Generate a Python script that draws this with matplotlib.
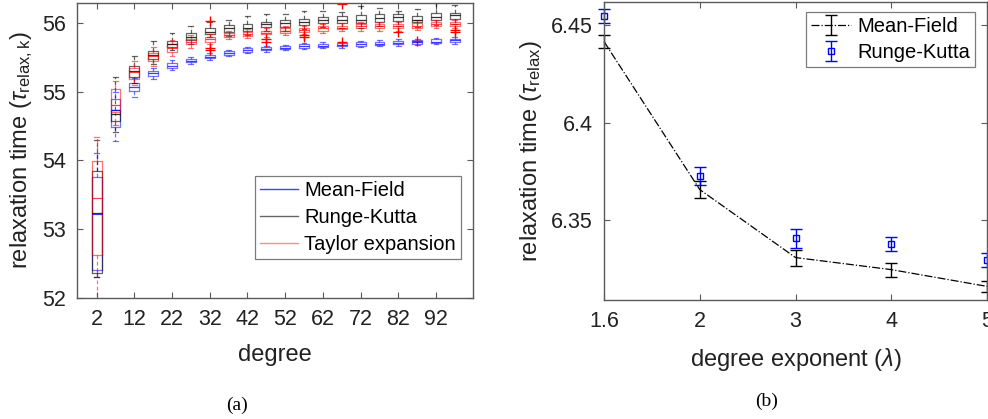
import matplotlib
matplotlib.use("Agg")
import matplotlib.pyplot as plt
from matplotlib.lines import Line2D

plt.rcParams['font.family'] = ['Liberation Sans', 'DejaVu Sans']
plt.rcParams['mathtext.fontset'] = 'custom'
plt.rcParams['mathtext.rm'] = 'Liberation Sans'
plt.rcParams['mathtext.it'] = 'Liberation Sans:italic'

# ---------------- panel (a) data ----------------
degrees = [2, 7, 12, 17, 22, 27, 32, 37, 42, 47, 52, 57, 62, 67, 72, 77, 82, 87, 92, 97]
degree_ticks = [2, 12, 22, 32, 42, 52, 62, 72, 82, 92]

# Mean-Field (blue)
mf_med = [53.22, 54.74, 55.07, 55.27, 55.38, 55.45, 55.51, 55.56, 55.60, 55.62,
          55.64, 55.66, 55.67, 55.68, 55.70, 55.70, 55.71, 55.72, 55.73, 55.75]
mf_q1 = [52.40, 54.49, 55.01, 55.23, 55.35, 55.43, 55.49, 55.54, 55.58, 55.60,
         55.62, 55.64, 55.65, 55.66, 55.67, 55.68, 55.69, 55.70, 55.71, 55.72]
mf_q3 = [53.76, 54.89, 55.13, 55.30, 55.42, 55.48, 55.53, 55.59, 55.63, 55.65,
         55.66, 55.69, 55.70, 55.71, 55.72, 55.73, 55.74, 55.75, 55.76, 55.77]
mf_lo = [52.30, 54.28, 54.93, 55.18, 55.31, 55.40, 55.46, 55.52, 55.56, 55.58,
         55.60, 55.62, 55.63, 55.64, 55.65, 55.66, 55.67, 55.68, 55.69, 55.70]
mf_hi = [54.11, 55.00, 55.20, 55.35, 55.46, 55.50, 55.56, 55.61, 55.65, 55.67,
         55.68, 55.71, 55.72, 55.73, 55.74, 55.75, 55.76, 55.77, 55.78, 55.79]

# Runge-Kutta (black)
rk_med = [53.23, 54.67, 55.30, 55.54, 55.69, 55.80, 55.87, 55.92, 55.93, 55.98,
          56.00, 56.02, 56.04, 56.05, 56.05, 56.07, 56.08, 56.05, 56.09, 56.11]
rk_q1 = [52.36, 54.58, 55.22, 55.47, 55.65, 55.75, 55.84, 55.87, 55.88, 55.94,
         55.94, 55.97, 56.00, 56.00, 56.00, 56.02, 56.03, 56.01, 56.04, 56.06]
rk_q3 = [53.85, 54.74, 55.38, 55.59, 55.74, 55.85, 55.92, 55.97, 55.98, 56.01,
         56.04, 56.06, 56.08, 56.10, 56.11, 56.13, 56.13, 56.10, 56.14, 56.15]
rk_lo = [52.30, 54.42, 55.12, 55.40, 55.60, 55.70, 55.79, 55.81, 55.82, 55.88,
         55.88, 55.91, 55.94, 55.93, 55.93, 55.95, 55.96, 55.94, 55.97, 55.99]
rk_hi = [54.30, 55.22, 55.52, 55.74, 55.86, 55.95, 56.01, 56.04, 56.10, 56.13,
         56.13, 56.18, 56.18, 56.16, 56.24, 56.22, 56.18, 56.20, 56.29, 56.26]

# Taylor expansion (red)
te_med = [53.45, 54.80, 55.28, 55.52, 55.64, 55.73, 55.76, 55.82, 55.84, 55.86,
          55.89, 55.90, 55.92, 55.93, 55.95, 55.95, 55.95, 55.96, 55.98, 55.98]
te_q1 = [52.62, 54.70, 55.18, 55.45, 55.58, 55.69, 55.73, 55.79, 55.81, 55.84,
         55.86, 55.87, 55.88, 55.91, 55.92, 55.92, 55.92, 55.93, 55.95, 55.95]
te_q3 = [53.99, 55.04, 55.35, 55.57, 55.69, 55.76, 55.79, 55.85, 55.87, 55.89,
         55.92, 55.93, 55.96, 55.96, 55.98, 55.98, 55.98, 56.00, 56.01, 56.01]
te_lo = [51.80, 54.52, 55.10, 55.38, 55.52, 55.64, 55.69, 55.76, 55.78, 55.80,
         55.83, 55.84, 55.86, 55.88, 55.89, 55.89, 55.89, 55.90, 55.92, 55.92]
te_hi = [54.34, 55.15, 55.45, 55.65, 55.75, 55.82, 55.84, 55.88, 55.91, 55.93,
         55.95, 55.96, 55.99, 56.00, 56.02, 56.02, 56.02, 56.04, 56.05, 56.05]
te_fliers = [[], [], [], [], [], [], [56.03, 55.64, 55.60], [], [], [55.76, 55.72],
             [], [55.82, 55.80], [], [56.27, 55.72], [], [], [55.87], [55.74], [], [55.90, 55.87]]

series_names = ['Mean-Field', 'Runge-Kutta', 'Taylor expansion']

# ---------------- panel (b) data ----------------
lambda_labels = ['1.6', '2', '3', '4', '5']
mf_tau = [6.4417, 6.3657, 6.3308, 6.3246, 6.3160]
mf_err = [0.0035, 0.0043, 0.0041, 0.0036, 0.0030]
rk_tau = [6.4548, 6.3728, 6.3407, 6.3378, 6.3295]
rk_err = [0.0036, 0.0047, 0.0049, 0.0038, 0.0034]

W, H = 988, 419
fig = plt.figure(figsize=(W / 100, H / 100), dpi=100)

spine_c = '#5a5a5a'
tick_fs = 15.5
label_fs = 17
leg_fs = 14.5


def stats_from(med, q1, q3, lo, hi, fliers=None):
    out = []
    for i in range(len(med)):
        out.append(dict(med=med[i], q1=q1[i], q3=q3[i], whislo=lo[i], whishi=hi[i],
                        fliers=(fliers[i] if fliers else [])))
    return out


def style_axes(ax):
    for s in ax.spines.values():
        s.set_color(spine_c)
        s.set_linewidth(1.0)
    ax.tick_params(direction='in', top=True, right=True, length=4, width=0.8,
                   color=spine_c, labelsize=tick_fs, labelcolor='#222222', pad=8)


# ---------------- panel (a) ----------------
ax1 = fig.add_axes([77 / W, 1 - 298 / H, (473 - 77) / W, (298 - 3) / H])
series = [
    ('blue', 0.55, stats_from(mf_med, mf_q1, mf_q3, mf_lo, mf_hi)),
    ('black', 0.6, stats_from(rk_med, rk_q1, rk_q3, rk_lo, rk_hi)),
    ('red', 0.55, stats_from(te_med, te_q1, te_q3, te_lo, te_hi, te_fliers)),
]
for c, a, st in series:
    ax1.bxp(st, positions=degrees, widths=2.6, showfliers=True, manage_ticks=False,
            boxprops=dict(color=c, lw=0.9, alpha=a),
            whiskerprops=dict(color=c, lw=0.9, alpha=a, ls=(0, (3, 2))),
            capprops=dict(color=c, lw=0.9, alpha=a),
            medianprops=dict(color=c, lw=0.9, alpha=min(1, a + 0.2)),
            flierprops=dict(marker='+', markeredgecolor='red', markersize=7,
                            markeredgewidth=1.0, linestyle='none'))
ax1.set_xlim(-3.2, 101.8)
ax1.set_ylim(52, 56.29)
ax1.set_xticks(degree_ticks)
ax1.set_xticklabels([str(d) for d in degree_ticks])
ax1.set_yticks([52, 53, 54, 55, 56])
style_axes(ax1)
ax1.set_xlabel('degree', fontsize=label_fs, color='#222222', labelpad=10)
ax1.set_ylabel(r'relaxation time ($\tau_{\mathrm{relax,k}}$)', fontsize=label_fs,
               color='#222222', labelpad=5)

handles = [Line2D([], [], color='blue', lw=1, alpha=0.75),
           Line2D([], [], color='black', lw=1, alpha=0.6),
           Line2D([], [], color='red', lw=1, alpha=0.45)]
leg1 = ax1.legend(handles, series_names, loc='upper left',
                  bbox_to_anchor=(255 / W, 1 - 176 / H), bbox_transform=fig.transFigure,
                  fontsize=leg_fs, frameon=True, fancybox=False, borderaxespad=0,
                  handlelength=1.9, handletextpad=0.3, labelspacing=0.4, borderpad=0.25)
leg1.get_frame().set_edgecolor(spine_c)
leg1.get_frame().set_linewidth(0.9)

# ---------------- panel (b) ----------------
ax2 = fig.add_axes([604 / W, 1 - 300 / H, (987 - 604) / W, (300 - 2) / H])
xpos = list(range(1, len(lambda_labels) + 1))
eb1 = ax2.errorbar(xpos, mf_tau, yerr=mf_err, color='black', ls='-.', lw=0.9,
                   elinewidth=1.0, capsize=4, capthick=1.0, label='Mean-Field')
eb2 = ax2.errorbar(xpos, rk_tau, yerr=rk_err, color='blue', ls='none', marker='s',
                   markersize=5, markerfacecolor='none', markeredgewidth=1.0,
                   elinewidth=1.0, capsize=4, capthick=1.0, label='Runge-Kutta')
for eb in (eb1, eb2):
    for art in eb.get_children():
        art.set_clip_on(False)
ax2.set_xlim(1, 5)
ax2.set_ylim(6.309, 6.462)
ax2.set_xticks(xpos)
ax2.set_xticklabels(lambda_labels)
ax2.set_yticks([6.35, 6.40, 6.45])
ax2.set_yticklabels(['6.35', '6.4', '6.45'])
style_axes(ax2)
ax2.set_xlabel(r'degree exponent ($\lambda$)', fontsize=label_fs, color='#222222', labelpad=10)
ax2.set_ylabel(r'relaxation time ($\tau_{\mathrm{relax}}$)', fontsize=label_fs,
               color='#222222', labelpad=5)
leg2 = ax2.legend(loc='upper right', bbox_to_anchor=(975 / W, 1 - 12 / H),
                  bbox_transform=fig.transFigure, fontsize=leg_fs, frameon=True,
                  fancybox=False, borderaxespad=0, handlelength=2.0,
                  handletextpad=0.3, labelspacing=0.35, borderpad=0.25)
leg2.get_frame().set_edgecolor(spine_c)
leg2.get_frame().set_linewidth(0.9)

# captions
fig.text(237 / W, 1 - 405 / H, '(a)', ha='center', va='center', fontsize=14,
         family='Liberation Serif')
fig.text(767 / W, 1 - 401 / H, '(b)', ha='center', va='center', fontsize=14,
         family='Liberation Serif')

fig.savefig('out.png', dpi=100)
